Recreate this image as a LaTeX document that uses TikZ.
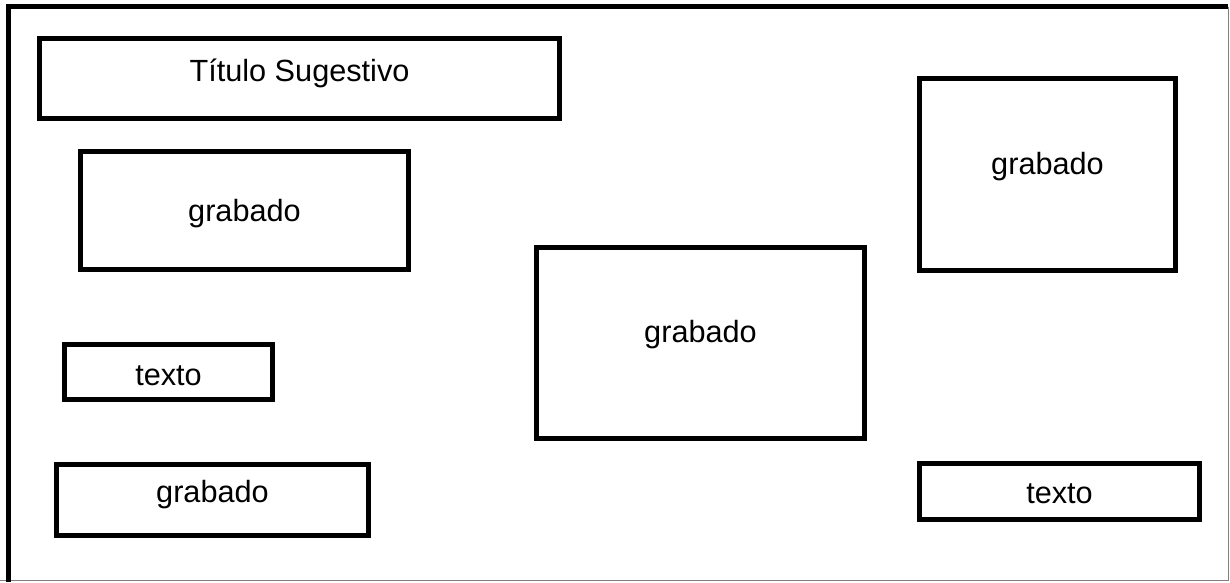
\documentclass[tikz,border=0pt]{standalone}
\usepackage{fontspec}
\setmainfont{Liberation Sans}
\usetikzlibrary{positioning}

\begin{document}
\begin{tikzpicture}[x=0.75pt, y=-0.75pt,
    every node/.style={font=\fontsize{23}{27}\selectfont},
    box/.style={draw, line width=3.75pt, inner sep=0pt},
    frame/.style={line width=3.75pt}]
    \useasboundingbox (0,0) rectangle (1230,582);

    % Outer frame (thick top and left, thin grey right and bottom)
    \coordinate (tl) at (8.5,6.5);
    \coordinate (tr) at (1228,6.5);
    \coordinate (bl) at (8.5,582);
    \coordinate (br) at (1228,580.5);
    \draw[gray, line width=0.75pt] (tr) -- (br) -- (0,580.5);
    \draw[frame] (bl) -- (tl) -- (tr);

    % Left column
    \node[box, minimum width=390pt, minimum height=60pt,
          label={[name=title-text, yshift=4.1pt]center:Título Sugestivo}]
          (title) at (299.5,78.5) {};
    \node[box, minimum width=246pt, minimum height=88.5pt,
          label={[name=grab1-text, yshift=-2.25pt]center:grabado}]
          (grab1) at (244.5,210.5) {};
    \node[box, minimum width=156pt, minimum height=41.25pt,
          label={[name=text1-text, yshift=-3pt]center:texto}]
          (text1) at (168.5,372) {};
    \node[box, minimum width=234pt, minimum height=53.25pt,
          label={[name=grab2-text, yshift=3.75pt]center:grabado}]
          (grab2) at (212.5,500) {};

    % Middle
    \node[box, minimum width=246pt, minimum height=143.25pt,
          label={[name=grabC-text, yshift=6pt]center:grabado}]
          (grabC) at (700.5,343) {};

    % Right column
    \node[box, minimum width=192pt, minimum height=144pt,
          label={[name=grabR-text, yshift=5.6pt]center:grabado}]
          (grabR) at (1047.5,174.5) {};
    \node[box, minimum width=210pt, minimum height=42pt,
          label={[name=text2-text, yshift=-1.9pt]center:texto}]
          (text2) at (1059.5,491.5) {};

\end{tikzpicture}
\end{document}
